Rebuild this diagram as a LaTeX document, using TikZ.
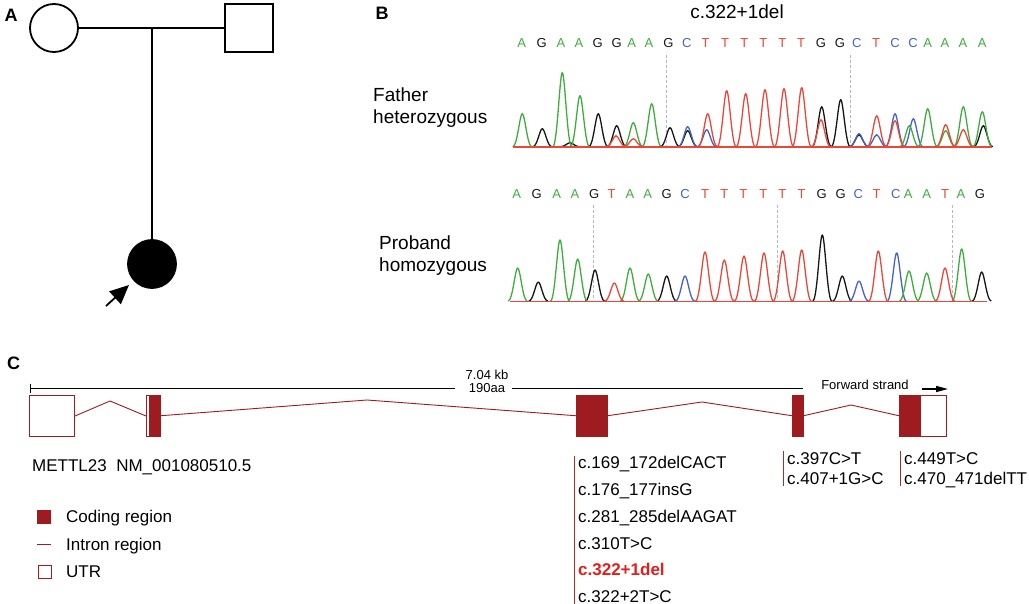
\documentclass[tikz,border=0pt]{standalone}
\usepackage{fontspec}
\setmainfont{Liberation Sans}
\usetikzlibrary{arrows.meta}
\definecolor{cgreen}{HTML}{3DAE3D}
\definecolor{cred}{HTML}{E8483A}
\definecolor{cblue}{HTML}{4463C4}
\definecolor{cblack}{HTML}{161616}
\definecolor{gene}{HTML}{9E1B20}
\definecolor{hot}{HTML}{E0201B}
\colorlet{colA}{cgreen}
\colorlet{colG}{cblack}
\colorlet{colC}{cblue}
\colorlet{colT}{cred}
\newcommand\chrompeak[4]{%
  \draw[#1, trace] ({#2-9.5},#4) .. controls ({#2-5},#4) and ({#2-2.6},{#4-#3}) .. ({#2},{#4-#3})
    .. controls ({#2+2.6},{#4-#3}) and ({#2+5},#4) .. ({#2+9.5},#4);}
\begin{document}
\begin{tikzpicture}[x=1pt,y=-1pt,
  trace/.style={line width=1.3pt, line join=round},
  seqlet/.style={font=\fontsize{13}{13}\selectfont, inner sep=0pt, text height=9.4pt, text depth=0pt},
  ped/.style={line width=1.8pt},
  lab/.style={font=\fontsize{18}{18}\selectfont\bfseries, inner sep=0pt},
  btxt/.style={font=\fontsize{19}{22}\selectfont, inner sep=0pt, align=left, anchor=west},
  vt/.style={font=\fontsize{17}{20}\selectfont, inner sep=0pt, anchor=west, text height=12pt, text depth=0pt},
  small/.style={font=\fontsize{13}{13}\selectfont, inner sep=0pt},
  guide/.style={gray!55, line width=0.6pt, dash pattern=on 3pt off 2pt},
  utr/.style={draw=gene, fill=white, line width=1pt, inner sep=0pt, anchor=north west, minimum height=41pt},
  cds/.style={fill=gene, draw=gene, line width=0.5pt, inner sep=0pt, anchor=north west, minimum height=41pt},
  intron/.style={draw=gene, line width=0.9pt},
  vline/.style={draw=gene!80!brown, line width=1pt}]
\useasboundingbox (0,0) rectangle (1029,604);

% ---------- Panel A ----------
\node[lab] (labA) at (11,15) {A};
\node[ped, draw, circle, minimum size=48pt, inner sep=0pt] (mother) at (54,28) {};
\node[ped, draw, rectangle, minimum size=48pt, inner sep=0pt] (father) at (249,28) {};
\node[ped, draw, fill=black, circle, minimum size=48pt, inner sep=0pt] (proband) at (152,264) {};
\coordinate (mid) at (152,28);
\draw[ped] (mother) -- (father);
\draw[ped] (mid) -- (proband.north);
\coordinate (arrS) at (106,306);
\coordinate (arrE) at (129,285);
\draw[ped, -{Triangle[length=19pt,width=17pt]}] (arrS) -- (arrE);

% ---------- Panel B ----------
\node[lab] (labB) at (382,13) {B};
\node[font=\fontsize{19}{19}\selectfont, inner sep=0pt] (mut) at (737,12) {c.322+1del};
\node[btxt] (fath) at (373,108) {Father\\heterozygous};
\node[btxt] (prob) at (379,255.5) {Proband\\homozygous};

% sequence 1
\foreach[count=\i] \l/\x in {A/521.7,G/541.7,A/561,A/579,G/597.7,G/616.7,A/631.7,A/649,G/668.3,C/686.7,T/705.7,T/725,T/744.3,T/763.3,T/782.3,T/801,G/821,G/840,C/856.7,T/876,C/895,C/913,A/927.7,A/945,A/963,A/982.3}
  \node[seqlet, text=col\l] (sa\i) at (\x,43) {\l};
% sequence 2
\foreach[count=\i] \l/\x in {A/516.7,G/536.7,A/556.7,A/575,G/594.3,T/611.7,A/630,A/647.7,G/666.7,C/685,T/705,T/724.3,T/743.3,T/763.3,T/782.3,T/801.7,G/821.7,G/840.7,C/858.3,T/876.7,C/895.7,A/908.3,A/926.7,T/945,A/961,G/980}
  \node[seqlet, text=col\l] (sb\i) at (\x,194) {\l};

% guide lines
\draw[guide] (666,55) -- (666,146);
\draw[guide] (850,55) -- (850,146);
\draw[guide] (593,205) -- (593,300);
\draw[guide] (777,205) -- (777,300);
\draw[guide] (952,205) -- (952,300);

% chromatogram 1 (father)
\draw[cblue, line width=1pt] (513,146.7) -- (990,146.7);
\foreach \x/\h in {542.3/18,570/4,598.3/33,616.7/21,670/19,687.7/16,821.7/40,840.7/47,859/12,983.3/21}
  {\chrompeak{cblack}{\x}{\h}{146.7}}
\foreach \x/\h in {687.7/20,706.7/17,859/13,876.7/12,895/33,913.3/28}
  {\chrompeak{cblue}{\x}{\h}{146.7}}
\foreach \x/\h in {522.3/33,562.3/74,580/51,633.3/24,651.7/43,909.3/21,927.7/38,945.7/16,963.3/40,982.3/35}
  {\chrompeak{cgreen}{\x}{\h}{146.7}}
\foreach \x/\h in {616/11,633.3/8,707.7/33,726.7/56,745.7/53,765/57,784/58,801.7/59,821/27,876.7/31,895/26,945.7/22,963.3/17}
  {\chrompeak{cred}{\x}{\h}{146.7}}
\draw[cred, line width=1.2pt] (513,147) -- (992,147);

% chromatogram 2 (proband)
\foreach \x/\h in {538.3/19,595/31,666.7/25,822.3/66,842.3/25,981.7/29}
  {\chrompeak{cblack}{\x}{\h}{301}}
\foreach \x/\h in {685/25,859/20,896.7/48}
  {\chrompeak{cblue}{\x}{\h}{301}}
\foreach \x/\h in {517.7/33,560/61,577.7/42,630/33,648.3/27,909/30,926.7/28,961.7/52}
  {\chrompeak{cgreen}{\x}{\h}{301}}
\foreach \x/\h in {614.3/18,705/49,724.3/41,744/45,764/48,782.7/50,801.7/51,878.3/50,945/33}
  {\chrompeak{cred}{\x}{\h}{301}}
\draw[cred, line width=1.2pt] (510,301.2) -- (987,301.2);

% ---------- Panel C ----------
\node[lab] (labC) at (13.5,363) {C};

% scale bar
\coordinate (sb0) at (30,388);
\coordinate (sb1) at (455,388);
\coordinate (sb2) at (512,388);
\coordinate (sb3) at (803,388);
\draw[line width=1pt] (sb0) -- (sb1);
\draw[line width=1pt] (sb2) -- (sb3);
\draw[line width=1pt] (sb0) ++(0,-4.5) -- ++(0,9);
\node[small] (kb) at (487,375) {7.04 kb};
\node[small] (aa) at (487,388) {190aa};
\node[small] (fwd) at (865,385) {Forward strand};
\coordinate (fs0) at (922,389);
\coordinate (fs1) at (948,389);
\draw[line width=1.4pt, -{Triangle[length=12pt,width=6pt]}] (fs0) -- (fs1);

% exons
\node[utr, minimum width=45pt] (e1) at (29,395) {};
\node[utr, minimum width=3pt] (e2u) at (146,395) {};
\node[cds, minimum width=11pt] (e2) at (149,395) {};
\node[cds, minimum width=31pt] (e3) at (576,395) {};
\node[cds, minimum width=11pt] (e4) at (792,395) {};
\node[cds, minimum width=21pt] (e5) at (899,395) {};
\node[utr, minimum width=26pt] (e5u) at (920,395) {};

% introns
\coordinate (i1) at (110,401);
\coordinate (i2) at (367,400);
\coordinate (i3) at (702,402);
\coordinate (i4) at (851,405);
\draw[intron] (e1.east) -- (i1) -- (e2u.west);
\draw[intron] (e2.east) -- (i2) -- (e3.west);
\draw[intron] (e3.east) -- (i3) -- (e4.west);
\draw[intron] (e4.east) -- (i4) -- (e5.west);

\node[vt] (gname) at (32,465) {METTL23\ \ NM\_001080510.5};

% legend
\node[fill=gene, inner sep=0pt, minimum size=14pt, anchor=north west] (legc) at (37,510) {};
\node[vt] (legct) at (66,516.5) {Coding region};
\coordinate (legi0) at (37,544);
\coordinate (legi1) at (51,544);
\draw[intron] (legi0) -- (legi1);
\node[vt] (legit) at (66,544) {Intron region};
\node[draw=gene, line width=1pt, fill=white, inner sep=0pt, minimum size=13pt, anchor=north west] (legu) at (37.5,564.5) {};
\node[vt] (legut) at (66,571) {UTR};

% variants
\coordinate (v1a) at (574,456);
\coordinate (v1b) at (574,604);
\draw[vline] (v1a) -- (v1b);
\node[vt] (v11) at (578,462) {c.169\_172delCACT};
\node[vt] (v12) at (578,489) {c.176\_177insG};
\node[vt] (v13) at (578,516) {c.281\_285delAAGAT};
\node[vt] (v14) at (578,543) {c.310T>C};
\node[vt, text=hot, font=\fontsize{17}{20}\selectfont\bfseries] (v15) at (578,569.5) {c.322+1del};
\node[vt] (v16) at (578,596) {c.322+2T>C};

\coordinate (v2a) at (783,451);
\coordinate (v2b) at (783,486);
\draw[vline] (v2a) -- (v2b);
\node[vt] (v21) at (787,458) {c.397C>T};
\node[vt] (v22) at (787,478.5) {c.407+1G>C};

\coordinate (v3a) at (900,451);
\coordinate (v3b) at (900,486);
\draw[vline] (v3a) -- (v3b);
\node[vt] (v31) at (904,458) {c.449T>C};
\node[vt] (v32) at (904,478.5) {c.470\_471delTT};
\end{tikzpicture}
\end{document}
